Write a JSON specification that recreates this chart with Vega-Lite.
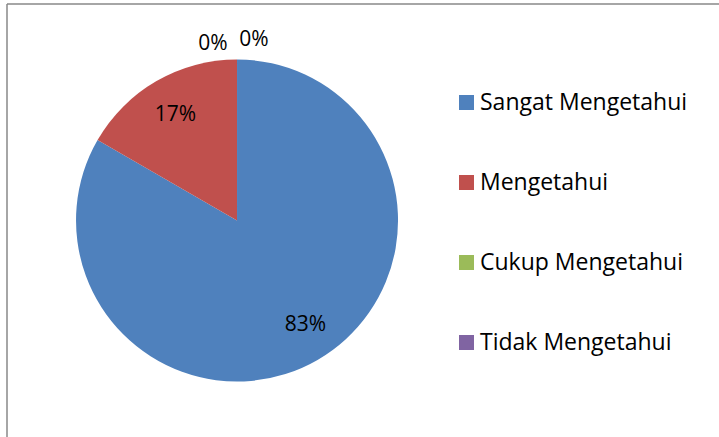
{
  "$schema": "https://vega.github.io/schema/vega-lite/v6.json",
  "width": 712,
  "height": 433,
  "autosize": {"type": "none"},
  "padding": {"left": 7, "top": 4, "right": 0, "bottom": 0},
  "background": "white",
  "view": {"stroke": "#898989", "strokeWidth": 1.5, "strokeDash": [712, 1145, 433, 0]},
  "config": {
    "font": "Open Sans"
  },
  "data": {
    "values": [
      {"kategori": "Sangat Mengetahui", "persen": 83.33, "label": "83%", "urutan": 1},
      {"kategori": "Mengetahui", "persen": 16.67, "label": "17%", "urutan": 2},
      {"kategori": "Cukup Mengetahui", "persen": 0, "label": "0%", "urutan": 3},
      {"kategori": "Tidak Mengetahui", "persen": 0, "label": "0%", "urutan": 4}
    ]
  },
  "encoding": {
    "x": {"datum": "pie", "type": "nominal", "scale": {"type": "point", "domain": ["pie", "legend"], "padding": 0.913}, "axis": null},
    "theta": {"field": "persen", "type": "quantitative", "stack": true},
    "order": {"field": "urutan", "type": "quantitative"}
  },
  "layer": [
    {
      "mark": {"type": "arc", "outerRadius": 161, "strokeWidth": 0},
      "encoding": {
        "color": {
          "field": "kategori",
          "type": "nominal",
          "sort": ["Sangat Mengetahui", "Mengetahui", "Cukup Mengetahui", "Tidak Mengetahui"],
          "scale": {
            "domain": ["Sangat Mengetahui", "Mengetahui", "Cukup Mengetahui", "Tidak Mengetahui"],
            "range": ["#4F81BD", "#C0504D", "#9BBB59", "#8064A2"]
          },
          "legend": {
            "orient": "none",
            "legendX": 448,
            "legendY": 87,
            "title": null,
            "symbolType": "square",
            "symbolSize": 225,
            "symbolStrokeWidth": 0,
            "symbolOpacity": 1,
            "labelFontSize": 23,
            "labelFont": "Open Sans",
            "labelColor": "#000000",
            "labelLimit": 300,
            "labelOffset": 2,
            "rowPadding": 56,
            "padding": 0
          }
        }
      }
    },
    {
      "transform": [{"filter": "datum.urutan == 1"}],
      "mark": {"type": "text", "radius": 123, "dx": 7, "dy": -2, "fontSize": 21, "color": "#000000", "font": "Open Sans"},
      "encoding": {"text": {"field": "label", "type": "nominal"}}
    },
    {
      "transform": [{"filter": "datum.persen > 0"}],
      "mark": {"type": "text", "radius": 123, "dy": 1, "fontSize": 21, "color": "#000000", "font": "Open Sans"},
      "encoding": {
        "text": {"field": "label", "type": "nominal"},
        "opacity": {"condition": {"test": "datum.urutan == 2", "value": 1}, "value": 0}
      }
    },
    {
      "transform": [{"filter": "datum.urutan == 3"}],
      "mark": {"type": "text", "radius": 178, "dx": -24, "dy": 1, "fontSize": 21, "color": "#000000", "font": "Open Sans"},
      "encoding": {"text": {"field": "label", "type": "nominal"}}
    },
    {
      "transform": [{"filter": "datum.urutan == 4"}],
      "mark": {"type": "text", "radius": 182, "dx": 17, "dy": 1, "fontSize": 21, "color": "#000000", "font": "Open Sans"},
      "encoding": {"text": {"field": "label", "type": "nominal"}}
    }
  ]
}
